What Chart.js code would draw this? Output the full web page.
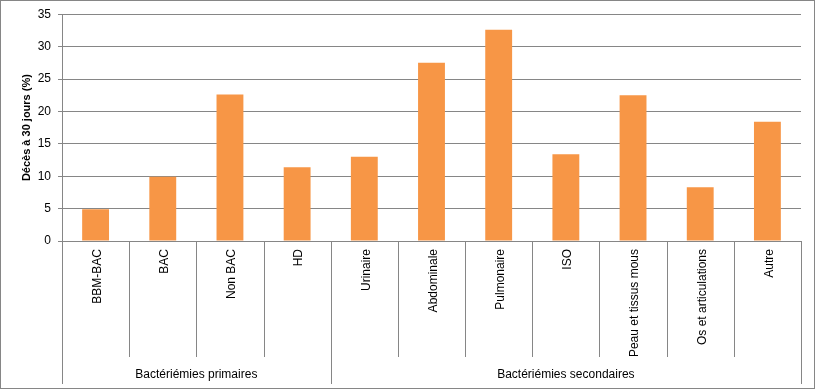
<!DOCTYPE html>
<html><head><meta charset="utf-8">
<script src="https://cdn.jsdelivr.net/npm/chart.js@4"></script>
<style>html,body{margin:0;padding:0;background:#fff}#wrap{position:relative;width:816px;height:390px}</style>
</head><body><div id="wrap"><canvas id="c"></canvas></div>
<script>
const categories = ['BBM-BAC','BAC','Non BAC','HD','Urinaire','Abdominale','Pulmonaire','ISO','Peau et tissus mous','Os et articulations','Autre'];
const deces30j = [4.9, 9.9, 22.6, 11.4, 13.0, 27.5, 32.6, 13.4, 22.5, 8.3, 18.4];
const groupLabels = ['Bactériémies primaires','Bactériémies secondaires'];
const groupSizes = [4, 7];
const yMin = 0, yMax = 35, yStep = 5;
const yTitle = 'Décès à 30 jours (%)';

const GRID = '#868686';
Chart.defaults.font.family = '"Liberation Sans", Arial, sans-serif';
Chart.defaults.font.size = 12;
Chart.defaults.color = '#000';

const groupAxis = {
  id: 'groupAxis',
  afterDraw(chart) {
    const ctx = chart.ctx, x = chart.scales.x;
    const n = categories.length;
    const half = (x.getPixelForValue(1) - x.getPixelForValue(0)) / 2;
    const bounds = [];
    for (let i = 0; i < n; i++) bounds.push(x.getPixelForValue(i) - half);
    bounds.push(x.getPixelForValue(n - 1) + half);
    const gb = [0]; let acc = 0;
    groupSizes.forEach(s => { acc += s; gb.push(acc); });
    ctx.save();
    ctx.strokeStyle = GRID; ctx.lineWidth = 1;
    const y0 = x.top;
    bounds.forEach((bx, i) => {
      const px = Math.round(bx) + 0.5;
      ctx.beginPath();
      ctx.moveTo(px, y0);
      ctx.lineTo(px, gb.includes(i) ? x.bottom : y0 + 116);
      ctx.stroke();
    });
    ctx.fillStyle = '#000';
    ctx.font = '12px "Liberation Sans", Arial, sans-serif';
    ctx.textAlign = 'center'; ctx.textBaseline = 'middle';
    groupLabels.forEach((g, k) => {
      const cx = (bounds[gb[k]] + bounds[gb[k + 1]]) / 2;
      ctx.fillText(g, cx, y0 + 134);
    });
    // outer border
    ctx.strokeRect(0.5, 0.5, chart.width - 2, chart.height - 2);
    ctx.restore();
  }
};

new Chart(document.getElementById('c'), {
  type: 'bar',
  data: {
    labels: categories,
    datasets: [{
      data: deces30j,
      backgroundColor: '#F79646',
      borderWidth: 0,
      categoryPercentage: 0.4,
      barPercentage: 1
    }]
  },
  options: {
    responsive: true,
    maintainAspectRatio: false,
    animation: false,
    layout: { padding: { top: 14, right: 15, bottom: 6, left: 0 } },
    plugins: { legend: { display: false }, tooltip: { enabled: false } },
    scales: {
      x: {
        grid: { display: false, drawTicks: false },
        border: { display: true, color: GRID },
        ticks: { autoSkip: false, minRotation: 90, maxRotation: 90, padding: 8, labelOffset: 2, color: '#000' },
        afterFit(s) { s.height = 143; }
      },
      y: {
        min: yMin, max: yMax,
        ticks: { stepSize: yStep, padding: 7, color: '#000' },
        grid: { color: GRID, tickLength: 4 },
        border: { display: true, color: GRID },
        title: { display: true, text: yTitle, font: { size: 11, weight: 'bold' }, color: '#000', padding: { top: 20, bottom: 0 } },
        afterFit(s) { s.width = 62; }
      }
    }
  },
  plugins: [groupAxis]
});
</script>
</body></html>
